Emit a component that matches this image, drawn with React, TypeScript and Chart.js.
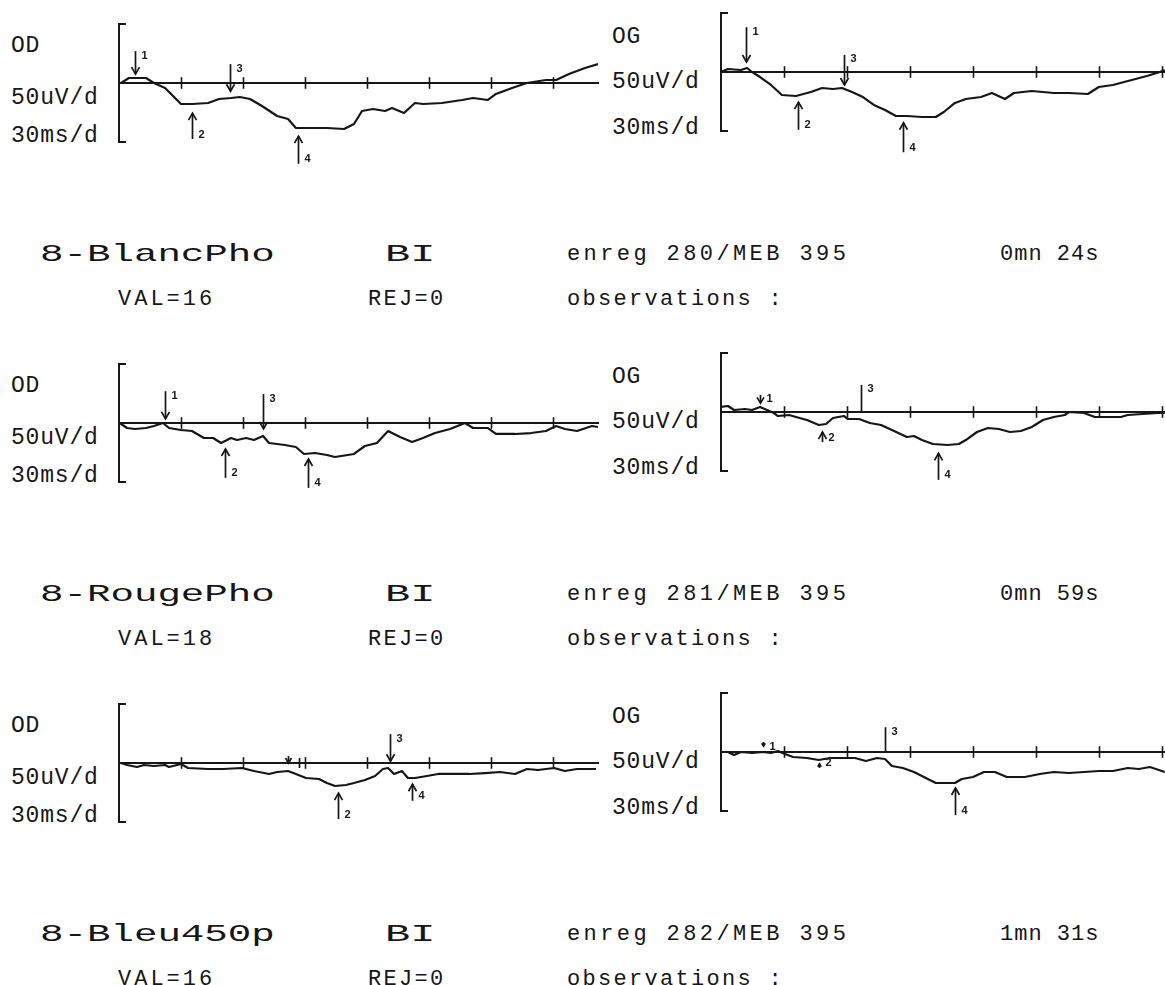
import React, { useEffect, useRef } from "react";
import { Chart, registerables } from "chart.js";

Chart.register(...registerables);

// ---------- data (time in ms, amplitude in µV) ----------
const TICK_STEP_MS = 30;
const AMP_RANGE_UV = 100;

const blancOD_ms = [0, 1.0, 4.8, 13.1, 16.9, 22.3, 30.0, 35.3, 43.1, 48.4, 54.2, 58.5, 63.4, 69.2, 76.5, 81.8, 85.6, 91.5, 100.6, 108.9, 113.7, 117.6, 122.9, 128.7, 132.1, 137.9, 143.2, 147.1, 156.3, 166.0, 171.3, 178.5, 182.4, 190.2, 197.4, 206.6, 211.5, 217.7, 225.5, 231.8];
const blancOD_uV = [0, 0, 8.5, 8.5, 0, -8.5, -35.6, -35.6, -33.9, -27.1, -25.4, -23.7, -27.1, -39.0, -55.9, -61.0, -76.3, -76.3, -76.3, -78.0, -69.5, -47.5, -44.1, -47.5, -42.4, -50.8, -33.9, -35.6, -33.9, -28.8, -25.4, -28.8, -18.6, -8.5, 0, 5.1, 5.1, 15.3, 25.4, 32.2];

const blancOG_ms = [0, 3.3, 9.5, 12.4, 14.8, 18.6, 23.8, 29.0, 35.7, 42.8, 48.1, 53.3, 57.6, 62.4, 67.6, 72.8, 78.1, 83.3, 88.5, 95.7, 102.3, 106.1, 111.4, 116.6, 123.8, 129.0, 135.2, 139.5, 148.0, 158.5, 165.7, 174.7, 179.9, 186.6, 195.6, 202.8, 209.0, 211.3];
const blancOG_uV = [0, 5.1, 3.4, 6.8, 0, -8.5, -22.0, -39.0, -40.7, -33.9, -27.1, -28.8, -27.1, -33.9, -42.4, -55.9, -64.4, -74.6, -74.6, -76.3, -76.3, -67.8, -52.5, -45.8, -42.4, -35.6, -45.8, -35.6, -32.2, -35.6, -35.6, -37.3, -25.4, -22.0, -13.6, -6.8, 0, 3.4];

const rougeOD_ms = [0, 1.0, 3.9, 7.7, 13.1, 16.9, 21.3, 24.2, 30.0, 35.3, 41.1, 45.5, 49.4, 54.2, 57.1, 61.5, 65.3, 69.7, 72.6, 80.3, 85.6, 89.5, 94.8, 100.6, 104.5, 113.7, 119.0, 124.8, 130.2, 136.0, 141.8, 147.1, 152.9, 160.2, 167.4, 171.3, 178.5, 182.4, 191.6, 199.4, 206.6, 211.5, 215.8, 221.6, 228.9, 231.8];
const rougeOD_uV = [0, -1.7, -8.5, -10.2, -8.5, -5.1, 0, -8.5, -11.9, -13.6, -25.4, -25.4, -33.9, -25.4, -28.8, -25.4, -28.8, -22.0, -33.9, -37.3, -40.7, -52.5, -50.8, -54.2, -57.6, -52.5, -39.0, -33.9, -13.6, -23.7, -32.2, -25.4, -17.0, -10.2, 0, -8.5, -8.5, -18.6, -18.6, -17.0, -13.6, -5.1, -10.2, -13.6, -5.1, -6.8];

const rougeOG_ms = [0, 3.3, 6.2, 11.4, 14.8, 18.6, 21.9, 25.2, 27.1, 32.4, 35.7, 40.9, 46.6, 50.0, 53.3, 58.5, 60.5, 65.7, 70.9, 76.2, 81.4, 88.5, 91.9, 95.7, 100.9, 108.0, 113.3, 116.6, 121.9, 127.1, 132.3, 137.6, 142.8, 148.0, 153.3, 158.5, 163.7, 165.7, 172.8, 178.0, 183.3, 190.4, 193.7, 200.9, 208.0, 211.3];
const rougeOG_uV = [8.5, 10.2, 3.4, 5.1, 3.4, 8.5, 3.4, -1.7, -6.8, -5.1, -8.5, -13.6, -22.0, -20.3, -10.2, -6.8, -11.9, -11.9, -18.6, -22.0, -30.5, -42.4, -40.7, -47.5, -54.2, -55.9, -54.2, -47.5, -33.9, -27.1, -28.8, -33.9, -32.2, -25.4, -13.6, -8.5, -5.1, 0, -1.7, -8.5, -8.5, -8.5, -5.1, -3.4, -1.7, -1.7];

const bleuOD_ms = [0, 1.0, 3.9, 8.7, 12.1, 16.9, 22.3, 24.2, 30.0, 33.4, 43.1, 50.3, 59.5, 65.3, 72.6, 76.5, 81.8, 85.6, 90.5, 96.8, 100.6, 104.5, 109.8, 113.7, 119.0, 123.9, 127.7, 130.2, 133.1, 136.9, 139.8, 143.2, 149.0, 154.4, 162.1, 169.4, 177.1, 184.4, 191.6, 197.4, 202.8, 210.5, 215.8, 221.6, 230.8];
const bleuOD_uV = [0, 0, -3.4, -6.8, -3.4, -5.1, -3.4, -6.8, -1.7, -8.5, -10.2, -10.2, -8.5, -13.6, -18.6, -15.3, -13.6, -18.6, -25.4, -27.1, -33.9, -39.0, -37.3, -33.9, -28.8, -22.0, -10.2, -8.5, -18.6, -13.6, -25.4, -25.4, -22.0, -18.6, -18.6, -18.6, -17.0, -15.3, -18.6, -10.2, -11.9, -8.5, -13.6, -10.2, -10.2];

const bleuOG_ms = [0, 3.3, 6.2, 9.5, 14.8, 20.0, 23.8, 27.1, 30.5, 34.3, 40.9, 46.6, 51.9, 57.1, 63.8, 69.0, 74.3, 78.1, 81.4, 86.6, 91.9, 96.6, 102.3, 111.4, 114.7, 120.0, 125.2, 130.4, 136.1, 144.7, 151.8, 158.5, 165.7, 172.8, 179.9, 186.6, 193.7, 199.0, 204.2, 208.5, 211.3];
const bleuOG_uV = [0, 0, -5.1, 0, -1.7, 0, -1.7, 1.7, -3.4, -8.5, -10.2, -13.6, -10.2, -10.2, -10.2, -15.3, -10.2, -11.9, -23.7, -27.1, -33.9, -42.4, -52.5, -52.5, -45.8, -42.4, -33.9, -33.9, -42.4, -42.4, -37.3, -33.9, -35.6, -33.9, -32.2, -32.2, -27.1, -28.8, -25.4, -30.5, -33.9];

// markers: label, time (ms), tail amplitude (µV), tip amplitude (µV), kind
type Marker = { n: string; ms: number; from: number; to: number; kind: "down" | "up" | "line" | "tick" };
const blancOD_markers: Marker[] = [
  { n: "1", ms: 7.7, from: 54, to: 15, kind: "down" },
  { n: "2", ms: 35.3, from: -95, to: -51, kind: "up" },
  { n: "3", ms: 53.7, from: 32, to: -14, kind: "down" },
  { n: "4", ms: 86.6, from: -137, to: -90, kind: "up" },
];
const blancOG_markers: Marker[] = [
  { n: "1", ms: 11.9, from: 76, to: 17, kind: "down" },
  { n: "2", ms: 36.7, from: -98, to: -51, kind: "up" },
  { n: "3", ms: 58.6, from: 29, to: -22, kind: "down" },
  { n: "4", ms: 86.6, from: -136, to: -86, kind: "up" },
];
const rougeOD_markers: Marker[] = [
  { n: "1", ms: 22.3, from: 54, to: 7, kind: "down" },
  { n: "2", ms: 51.3, from: -93, to: -44, kind: "up" },
  { n: "3", ms: 69.7, from: 49, to: -10, kind: "down" },
  { n: "4", ms: 91.5, from: -110, to: -61, kind: "up" },
];
const rougeOG_markers: Marker[] = [
  { n: "1", ms: 18.6, from: 29, to: 15, kind: "down" },
  { n: "2", ms: 48.1, from: -51, to: -34, kind: "up" },
  { n: "3", ms: 66.7, from: 46, to: 0, kind: "line" },
  { n: "4", ms: 103.3, from: -115, to: -70, kind: "up" },
];
const bleuOD_markers: Marker[] = [
  { n: "", ms: 81.8, from: 12, to: 0, kind: "down" },
  { n: "", ms: 87.1, from: 0, to: 0, kind: "tick" },
  { n: "2", ms: 106.0, from: -95, to: -51, kind: "up" },
  { n: "3", ms: 131.1, from: 49, to: 3, kind: "down" },
  { n: "4", ms: 141.8, from: -64, to: -36, kind: "up" },
];
const bleuOG_markers: Marker[] = [
  { n: "1", ms: 20.0, from: 17, to: 10, kind: "down" },
  { n: "2", ms: 46.6, from: -27, to: -20, kind: "up" },
  { n: "3", ms: 78.1, from: 42, to: 0, kind: "line" },
  { n: "4", ms: 111.4, from: -107, to: -61, kind: "up" },
];

// text rows
const recordNames = ["8-BlancPho", "8-RougePho", "8-Bleu450p"];
const recordCodes = ["BI", "BI", "BI"];
const recordInfo = ["enreg 280/MEB 395", "enreg 281/MEB 395", "enreg 282/MEB 395"];
const recordDurations = ["0mn 24s", "0mn 59s", "1mn 31s"];
const valCounts = [16, 18, 16];
const rejCounts = [0, 0, 0];
const eyeLabels = ["OD", "OG"];
const ampScaleLabel = "50uV/d";
const timeScaleLabel = "30ms/d";

// ---------- styling / layout ----------
const INK = "#161616";
const MONO = "'Liberation Mono', 'Courier New', 'DejaVu Sans Mono', monospace";
const ROW_STEP = 340;

const ergPlugin = {
  id: "ergDecor",
  beforeDatasetsDraw(chart: any) {
    const { ctx, chartArea: a, scales } = chart;
    const x = scales.x, y = scales.y;
    const y0 = y.getPixelForValue(0);
    ctx.save();
    ctx.strokeStyle = INK;
    ctx.lineCap = "square";
    ctx.lineWidth = 2;
    ctx.beginPath();
    ctx.moveTo(a.left + 6, a.top);
    ctx.lineTo(a.left, a.top);
    ctx.lineTo(a.left, a.bottom);
    ctx.lineTo(a.left + 6, a.bottom);
    ctx.stroke();
    ctx.beginPath();
    ctx.moveTo(a.left, y0);
    ctx.lineTo(a.right, y0);
    ctx.stroke();
    ctx.lineWidth = 1.6;
    for (let v = TICK_STEP_MS; v <= x.max; v += TICK_STEP_MS) {
      const px = Math.round(x.getPixelForValue(v)) + 0.5;
      ctx.beginPath();
      ctx.moveTo(px, y0 - 5);
      ctx.lineTo(px, y0 + 5);
      ctx.stroke();
    }
    ctx.restore();
  },
  afterDatasetsDraw(chart: any) {
    const { ctx, scales } = chart;
    const x = scales.x, y = scales.y;
    const markers: Marker[] = chart.options.plugins.ergDecor.markers || [];
    const y0 = y.getPixelForValue(0);
    ctx.save();
    ctx.strokeStyle = INK;
    ctx.fillStyle = INK;
    ctx.lineWidth = 1.7;
    ctx.font = "bold 11px 'Liberation Sans Narrow', 'Liberation Sans', Arial, sans-serif";
    for (const m of markers) {
      const px = Math.round(x.getPixelForValue(m.ms)) + 0.5;
      if (m.kind === "tick") {
        ctx.beginPath();
        ctx.moveTo(px, y0 - 5);
        ctx.lineTo(px, y0 + 5);
        ctx.stroke();
        continue;
      }
      const pTail = y.getPixelForValue(m.from);
      const pTip = y.getPixelForValue(m.to);
      ctx.beginPath();
      ctx.moveTo(px, pTail);
      ctx.lineTo(px, pTip);
      ctx.stroke();
      if (m.kind === "down" || m.kind === "up") {
        const dir = Math.sign(pTip - pTail) || 1;
        const len = Math.abs(pTip - pTail);
        const hl = Math.min(7, len * 0.7);
        const hw = Math.min(4, hl * 0.6);
        ctx.beginPath();
        ctx.moveTo(px - hw, pTip - dir * hl);
        ctx.lineTo(px, pTip);
        ctx.lineTo(px + hw, pTip - dir * hl);
        ctx.stroke();
      }
      if (m.n) {
        if (m.kind === "up") {
          ctx.textBaseline = "bottom";
          ctx.fillText(m.n, px + 6, pTail + 1);
        } else {
          ctx.textBaseline = "top";
          ctx.fillText(m.n, px + 6, Math.min(pTail, pTip) - 1);
        }
      }
    }
    ctx.restore();
  },
};

type PanelProps = {
  ms: number[];
  uV: number[];
  markers: Marker[];
  originX: number;
  baselineY: number;
  right: number;
  pxPerTick: number;
};

function ErgPanel({ ms, uV, markers, originX, baselineY, right, pxPerTick }: PanelProps) {
  const ref = useRef<HTMLCanvasElement>(null);
  const left = originX - 9;
  const top = baselineY - 80;
  const width = right - left + 2;
  const height = 175;
  const plotH = 59;
  const xMax = ((right - originX) / pxPerTick) * TICK_STEP_MS;
  useEffect(() => {
    const chart = new Chart(ref.current as HTMLCanvasElement, {
      type: "line",
      data: {
        datasets: [
          {
            data: ms.map((v, i) => ({ x: v, y: uV[i] })),
            borderColor: INK,
            borderWidth: 2.2,
            pointRadius: 0,
            tension: 0,
            fill: false,
            borderJoinStyle: "round",
          } as any,
        ],
      },
      options: {
        animation: false,
        responsive: false,
        maintainAspectRatio: false,
        events: [],
        layout: {
          padding: {
            left: 9,
            right: 2,
            top: 80 - plotH,
            bottom: height - 80 - plotH,
          },
        },
        scales: {
          x: { type: "linear", min: 0, max: xMax, display: false },
          y: { type: "linear", min: -AMP_RANGE_UV, max: AMP_RANGE_UV, display: false },
        },
        plugins: {
          legend: { display: false },
          tooltip: { enabled: false },
          ergDecor: { markers },
        } as any,
      },
      plugins: [ergPlugin as any],
    });
    return () => chart.destroy();
  }, []);
  return (
    <canvas
      ref={ref}
      width={width}
      height={height}
      style={{ position: "absolute", left, top, width, height }}
    />
  );
}

function Txt({ x, y, children, size = 22, spacing = 1, scaleX = 1 }: any) {
  return (
    <span
      style={{
        position: "absolute",
        left: x,
        top: y,
        transform: `translateY(-50%) scaleX(${scaleX})`,
        transformOrigin: "left center",
        whiteSpace: "pre",
        lineHeight: 1,
        fontFamily: MONO,
        fontSize: size,
        letterSpacing: spacing,
        color: INK,
      }}
    >
      {children}
    </span>
  );
}

const leftTraces = [
  { ms: blancOD_ms, uV: blancOD_uV, markers: blancOD_markers },
  { ms: rougeOD_ms, uV: rougeOD_uV, markers: rougeOD_markers },
  { ms: bleuOD_ms, uV: bleuOD_uV, markers: bleuOD_markers },
];
const rightTraces = [
  { ms: blancOG_ms, uV: blancOG_uV, markers: blancOG_markers },
  { ms: rougeOG_ms, uV: rougeOG_uV, markers: rougeOG_markers },
  { ms: bleuOG_ms, uV: bleuOG_uV, markers: bleuOG_markers },
];

export default function App() {
  return (
    <div
      style={{
        position: "absolute",
        left: 0,
        top: 0,
        width: 1165,
        height: 985,
        background: "#ffffff",
        overflow: "hidden",
      }}
    >
      {recordNames.map((name, r) => {
        const bl = 83 + r * ROW_STEP;
        const br = 72 + r * ROW_STEP;
        const ty = 255 + r * ROW_STEP;
        const iy = 300 + r * ROW_STEP;
        return (
          <React.Fragment key={name}>
            <Txt x={11} y={bl - 37} size={23} spacing={0.8}>{eyeLabels[0]}</Txt>
            <Txt x={11} y={bl + 15} size={23} spacing={0.8}>{ampScaleLabel}</Txt>
            <Txt x={11} y={bl + 53} size={23} spacing={0.8}>{timeScaleLabel}</Txt>
            <ErgPanel {...leftTraces[r]} originX={119} baselineY={bl} right={598} pxPerTick={62} />

            <Txt x={612} y={br - 35} size={23} spacing={0.8}>{eyeLabels[1]}</Txt>
            <Txt x={612} y={br + 10} size={23} spacing={0.8}>{ampScaleLabel}</Txt>
            <Txt x={612} y={br + 56} size={23} spacing={0.8}>{timeScaleLabel}</Txt>
            <ErgPanel {...rightTraces[r]} originX={721} baselineY={br} right={1165} pxPerTick={63} />

            <Txt x={40} y={ty} size={24} spacing={0} scaleX={1.63}>{name}</Txt>
            <Txt x={385} y={ty} size={24} spacing={0} scaleX={1.75}>{recordCodes[r]}</Txt>
            <Txt x={567} y={ty} size={22} spacing={3.4}>{recordInfo[r]}</Txt>
            <Txt x={1000} y={ty} size={22} spacing={1}>{recordDurations[r]}</Txt>

            <Txt x={118} y={iy} size={22} spacing={3}>{`VAL=${valCounts[r]}`}</Txt>
            <Txt x={368} y={iy} size={22} spacing={2.3}>{`REJ=${rejCounts[r]}`}</Txt>
            <Txt x={567} y={iy} size={22} spacing={2.3}>{"observations :"}</Txt>
          </React.Fragment>
        );
      })}
    </div>
  );
}
